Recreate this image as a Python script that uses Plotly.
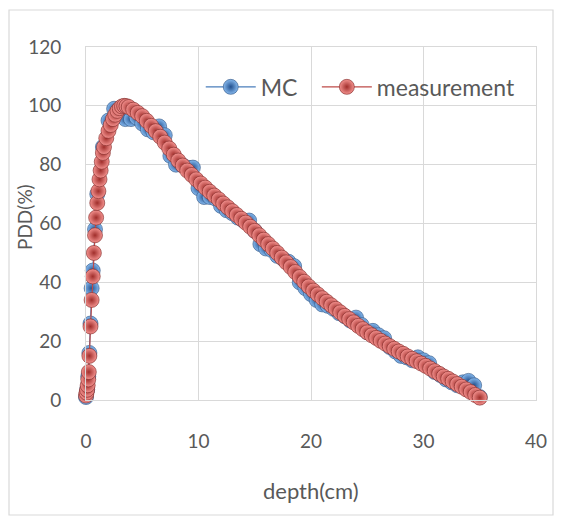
import plotly.graph_objects as go

# ---- data ----
meas_depth = [0, 0.05, 0.1, 0.15, 0.2, 0.25, 0.3, 0.4, 0.5, 0.6, 0.7, 0.8, 0.9, 1.0, 1.1, 1.2, 1.3, 1.4, 1.5, 1.6,
              1.8, 2.0, 2.2, 2.4, 2.6, 2.8, 3.0, 3.2, 3.4, 3.6, 3.8,
              4.2, 4.6, 5.0, 5.4, 5.8, 6.2, 6.6, 7.0, 7.4, 7.8, 8.2, 8.6, 9.0, 9.4, 9.8, 10.2, 10.6, 11.0, 11.4, 11.8,
              12.2, 12.6, 13.0, 13.4, 13.8, 14.2, 14.6, 15.0, 15.4, 15.8, 16.2, 16.6, 17.0, 17.4, 17.8, 18.2, 18.6,
              19.0, 19.4, 19.8, 20.2, 20.6, 21.0, 21.4, 21.8, 22.2, 22.6, 23.0, 23.4, 23.8, 24.2, 24.6, 25.0, 25.4,
              25.8, 26.2, 26.6, 27.0, 27.4, 27.8, 28.2, 28.6, 29.0, 29.4, 29.8, 30.2, 30.6, 31.0, 31.4, 31.8, 32.2,
              32.6, 33.0, 33.4, 33.8, 34.2, 34.6, 35.0]
meas_pdd = [1.5, 2.5, 3.5, 5, 7, 9.5, 15, 25, 34, 42, 50, 56, 62, 67, 71, 75, 78, 81, 84, 86,
            89, 91.5, 93.5, 95.5, 97, 98.3, 99.2, 99.8, 100, 99.9, 99.6,
            98.7, 97.6, 96.5, 94.9, 93.2, 91.4, 89.5, 87.5, 85.5, 83.4, 81.4, 79.7, 78.0, 76.5, 75.0, 73.6, 72.2,
            70.8, 69.5, 68.2, 66.8, 65.5, 64.2, 62.9, 61.6, 60.3, 58.9, 57.5, 56.0, 54.5, 53.0, 51.5, 50.0, 48.4,
            46.8, 45.2, 43.5, 41.8, 40.2, 38.6, 37.2, 35.9, 34.6, 33.4, 32.2, 31.0, 29.8, 28.6, 27.5, 26.4, 25.2,
            24.1, 23.0, 22.0, 21.1, 20.1, 19.2, 18.3, 17.4, 16.5, 15.7, 14.8, 14.0, 13.2, 12.4, 11.6, 10.7, 9.8,
            8.9, 8.0, 7.2, 6.3, 5.4, 4.5, 3.6, 2.7, 1.7, 0.8]

mc_depth = [0, 0.1, 0.2, 0.3, 0.4, 0.5, 0.6, 0.8, 1.0, 1.5, 2.0, 2.5, 3.0, 3.5, 4.0, 4.5, 5.0, 5.5, 6.0, 6.5,
            7.0, 7.5, 8.0, 8.5, 9.0, 9.5, 10.0, 10.5, 11.0, 11.5, 12.0, 12.5, 13.0, 13.5, 14.0, 14.5, 15.0, 15.5,
            16.0, 16.5, 17.0, 17.5, 18.0, 18.5, 19.0, 19.5, 20.0, 20.5, 21.0, 21.5, 22.0, 22.5, 23.0, 23.5, 24.0,
            24.5, 25.0, 25.5, 26.0, 26.5, 27.0, 27.5, 28.0, 28.5, 29.0, 29.5, 30.0, 30.5, 31.0, 31.5, 32.0, 32.5,
            33.0, 33.5, 34.0, 34.5, 35.0]
mc_pdd = [1, 3.5, 8, 16, 26, 38, 44, 58, 70, 86, 95, 99, 97, 95.5, 95.5, 96, 94, 92, 91, 93,
          90, 83, 80, 80, 79, 79, 72, 69, 69, 68.5, 66, 64.5, 63.5, 62, 61, 61, 57.5, 53,
          51.5, 51, 49, 48, 47, 45.5, 40, 38, 36, 34, 32.5, 32, 31, 29.5, 28.5, 27, 28,
          25.5, 23, 23.5, 22, 21, 18, 16.5, 15, 14.5, 13.5, 14.5, 13.5, 12.5, 9.5, 8.5, 7, 6,
          5, 6, 6.5, 5, 1]

x_ticks = [0, 10, 20, 30, 40]
y_ticks = [0, 20, 40, 60, 80, 100, 120]

FONT = "Lato"
TXT = "#595959"
GRID = "#d9d9d9"

# page offset of the plot area (body has an 8px margin)
L, T, PW, PH = 78, 39, 450, 353
R, B = 18, 116

legend_common = dict(orientation="h", yanchor="middle", xanchor="left", y=0.887,
                     bgcolor="rgba(0,0,0,0)", font=dict(size=23, color=TXT, family=FONT),
                     itemwidth=50)

fig = go.Figure()
fig.add_trace(go.Scatter(
    x=mc_depth, y=mc_pdd, name="MC", mode="lines+markers", cliponaxis=False,
    legend="legend",
    line=dict(color="#4a7ebb", width=1.2),
    marker=dict(size=15, color="#86b9ee",
                gradient=dict(type="radial", color="#22508e"),
                line=dict(color="#2b4f7e", width=0.6)),
))
fig.add_trace(go.Scatter(
    x=meas_depth, y=meas_pdd, name="measurement", mode="lines+markers", cliponaxis=False,
    legend="legend2",
    line=dict(color="#be4b48", width=1.2),
    marker=dict(size=15, color="#f4928f",
                gradient=dict(type="radial", color="#a02e2b"),
                line=dict(color="#7a2321", width=0.6)),
))

fig.update_layout(
    width=L + PW + R, height=T + PH + B,
    margin=dict(l=L, r=R, t=T, b=B, autoexpand=False),
    paper_bgcolor="white", plot_bgcolor="white",
    font=dict(family=FONT, color=TXT, size=18),
    showlegend=True,
    legend=dict(x=0.255, **legend_common),
    legend2=dict(x=0.513, **legend_common),
    shapes=[dict(type="rect", xref="paper", yref="paper",
                 x0=(9 - 86) / 450, x1=(553 - 86) / 450,
                 y0=(400 - 515) / 353, y1=(400 - 10) / 353,
                 line=dict(color=GRID, width=1.2), layer="below")],
    annotations=[
        dict(text="depth(cm)", xref="paper", yref="paper", x=0.5, y=(400 - 490) / 353,
             xanchor="center", yanchor="middle", showarrow=False,
             font=dict(size=22, color=TXT, family=FONT)),
        dict(text="PDD(%)", xref="paper", yref="paper", x=(25 - 86) / 450, y=(400 - 217) / 353,
             xanchor="center", yanchor="middle", showarrow=False, textangle=-90,
             font=dict(size=19, color=TXT, family=FONT)),
    ],
)
fig.update_xaxes(
    range=[0, 40], tickvals=x_ticks, ticktext=[str(v) for v in x_ticks],
    showgrid=True, gridcolor=GRID, gridwidth=1, zeroline=False,
    showline=True, linecolor=GRID, mirror=True,
    ticks="", ticklabelstandoff=24, tickfont=dict(size=19, color=TXT),
)
fig.update_yaxes(
    range=[0, 120], tickvals=y_ticks, ticktext=[str(v) for v in y_ticks],
    showgrid=True, gridcolor=GRID, gridwidth=1, zeroline=False,
    showline=True, linecolor=GRID, mirror=True,
    ticks="", ticklabelstandoff=20, tickfont=dict(size=19, color=TXT),
)

fig.write_html("out.html")
